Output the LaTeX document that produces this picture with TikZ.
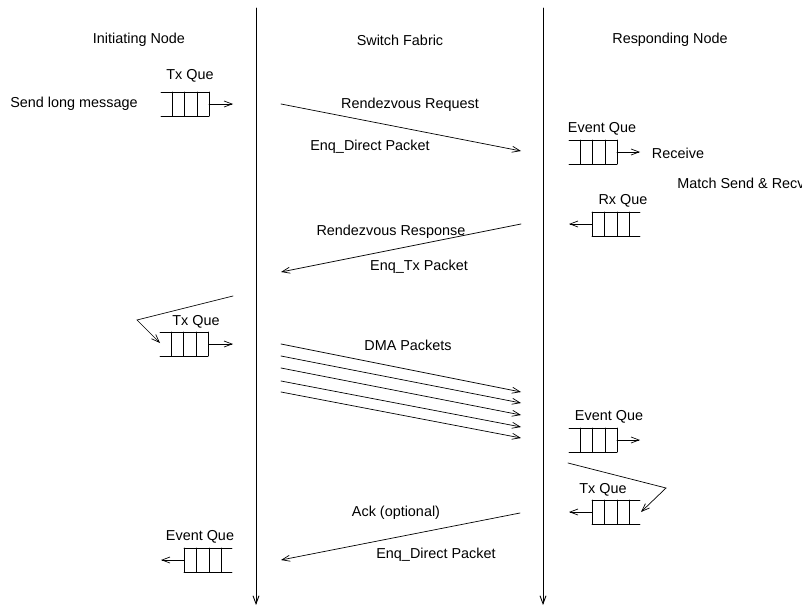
\documentclass[tikz,border=0pt]{standalone}
\usepackage{fontspec}
\setmainfont{Liberation Sans}
\usetikzlibrary{arrows.meta}
\tikzset{
  lbl/.style={inner sep=0pt, font=\fontsize{14.4}{16}\selectfont},
  msg/.style={-{Straight Barb[length=8pt,width=6pt]}},
}
\begin{document}
\begin{tikzpicture}[x=1pt, y=-1pt, line width=0.7pt, line cap=round]
  \useasboundingbox (0,0) rectangle (802,607);
  % las dos lineas de tiempo
  \coordinate (izq-a) at (256,8);   \coordinate (izq-b) at (256,605);
  \coordinate (der-a) at (543,8);   \coordinate (der-b) at (543,605);
  \draw[msg, line width=0.9pt] (izq-a) -- (izq-b);
  \draw[msg, line width=0.9pt] (der-a) -- (der-b);
  % cabeceras
  \node[lbl] (ini) at (139,40) {Initiating Node};
  \node[lbl] (sw)  at (400,40) {Switch Fabric};
  \node[lbl] (rsp) at (670,40) {Responding Node};
  % colas abiertas por la izquierda
  \foreach \x/\y in {161/92, 160/332, 569/140, 569/428} {
    \draw (\x,\y) -- ++(48,0) (\x,\y+24) -- ++(48,0);
    \foreach \d in {11,23.5,36,48} { \draw (\x+\d,\y) -- ++(0,24); }
  }
  % colas abiertas por la derecha
  \foreach \x/\y in {592/212, 592/500, 184/548} {
    \draw (\x,\y) -- ++(48,0) (\x,\y+24) -- ++(48,0);
    \foreach \d in {0,12.5,25,37} { \draw (\x+\d,\y) -- ++(0,24); }
  }
  % textos de las colas
  \node[lbl] (txq1)  at (190,76)  {Tx Que};
  \node[lbl] (send)  at (74,104)  {Send long message};
  \node[lbl] (evq1)  at (602,129) {Event Que};
  \node[lbl, anchor=west] (match) at (677,183) {Match Send \& Recv};
  \node[lbl] (recv)  at (678,153) {Receive};
  \node[lbl] (rxq)   at (623,201) {Rx Que};
  \node[lbl] (txq2)  at (196,322) {Tx Que};
  \node[lbl] (evq2)  at (609,417) {Event Que};
  \node[lbl] (txq3)  at (603,490) {Tx Que};
  \node[lbl] (evq3)  at (200,537) {Event Que};
  % flechas de salida de las colas
  \coordinate (q1) at (209,104); \coordinate (q1e) at (233,104);
  \coordinate (q2) at (617,152); \coordinate (q2e) at (640,152);
  \coordinate (q3) at (592,224); \coordinate (q3e) at (569,224);
  \coordinate (q4) at (209,344); \coordinate (q4e) at (233,344);
  \coordinate (q5) at (617,440); \coordinate (q5e) at (640,440);
  \coordinate (q6) at (592,512); \coordinate (q6e) at (569,512);
  \coordinate (q7) at (184,560); \coordinate (q7e) at (161,560);
  \foreach \q in {q1,q2,q3,q4,q5,q6,q7} { \draw[msg] (\q) -- (\q e); }
  % peticion y respuesta de la cita
  \coordinate (req-a) at (281,104); \coordinate (req-b) at (521,151);
  \draw[msg] (req-a) -- (req-b);
  \node[lbl] (reqt) at (410,105) {Rendezvous Request};
  \node[lbl] (reqe) at (370,147) {Enq\_Direct Packet};
  \coordinate (rsp-a) at (521,224); \coordinate (rsp-b) at (281,272);
  \draw[msg] (rsp-a) -- (rsp-b);
  \node[lbl] (rspt) at (391,232) {Rendezvous Response};
  \node[lbl] (rspe) at (419,267) {Enq\_Tx Packet};
  % vuelta hacia la cola de envio
  \coordinate (lz-a) at (233,296); \coordinate (lz-m) at (137,320);
  \coordinate (lz-b) at (160,343);
  \draw[msg] (lz-a) -- (lz-m) -- (lz-b);
  % los paquetes DMA
  \node[lbl] (dma) at (408,345) {DMA Packets};
  \foreach \i/\a/\b in {1/344/392, 2/356/403, 3/368/415, 4/381/427, 5/392/438} {
    \coordinate (dma\i-a) at (281,\a); \coordinate (dma\i-b) at (521,\b);
    \draw[msg] (dma\i-a) -- (dma\i-b);
  }
  % vuelta en el nodo que responde
  \coordinate (ld-a) at (568,463); \coordinate (ld-m) at (666,488);
  \coordinate (ld-b) at (641,512);
  \draw[msg] (ld-a) -- (ld-m) -- (ld-b);
  % el acuse de recibo
  \coordinate (ack-a) at (520,513); \coordinate (ack-b) at (281,560);
  \draw[msg] (ack-a) -- (ack-b);
  \node[lbl] (ackt) at (396,513) {Ack (optional)};
  \node[lbl] (acke) at (436,555) {Enq\_Direct Packet};
\end{tikzpicture}
\end{document}
